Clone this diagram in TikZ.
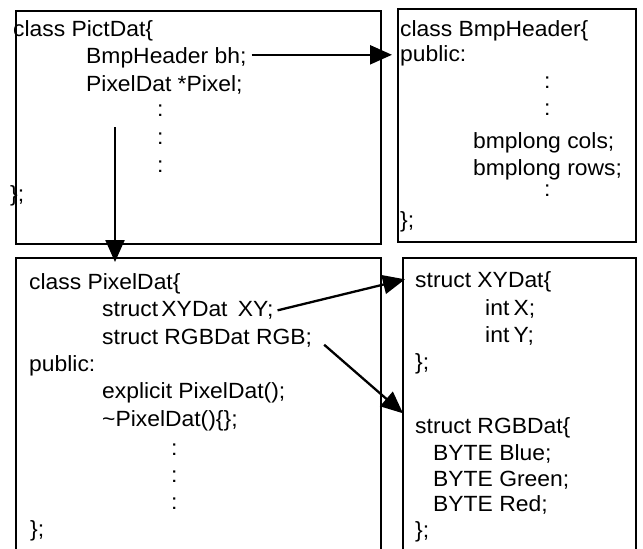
\documentclass[tikz,border=0pt]{standalone}
\usepackage{fontspec}
\setmainfont{Liberation Sans}[FakeStretch=1.04]
\usetikzlibrary{arrows.meta}
\begin{document}
\begin{tikzpicture}[x=1pt,y=-1pt,
  box/.style={draw, line width=2.1pt, inner sep=0pt, anchor=north west},
  txt/.style={anchor=base west, inner sep=0pt, font=\fontsize{22}{26}\selectfont},
  arr/.style={line width=2.3pt, -{Triangle[length=22pt,width=19pt]}}]
\clip (0,0) rectangle (643,549);
\fill[white] (0,0) rectangle (643,549);
% boxes
\node[box, minimum width=365pt, minimum height=233pt] (b1) at (15,10) {};
\node[box, minimum width=238pt, minimum height=233pt] (b2) at (397,8) {};
\node[box, minimum width=365pt, minimum height=320pt] (b3) at (15,257) {};
\node[box, minimum width=233pt, minimum height=320pt] (b4) at (402,257) {};
% box 1
\node[txt] (p1) at (13,36) {class PictDat\{};
\node[txt] (p2) at (86,63.5) {BmpHeader bh;};
\node[txt] (p3) at (86,91) {PixelDat *Pixel;};
\node[txt] (p4) at (157,116.5) {:};
\node[txt] (p5) at (157,144.5) {:};
\node[txt] (p6) at (157,172.5) {:};
\node[txt] (p7) at (10,201) {\};};
% box 2
\node[txt] (q1) at (400,36) {class BmpHeader\{};
\node[txt] (q2) at (400,61) {public:};
\node[txt] (q3) at (544,88.5) {:};
\node[txt] (q4) at (544,115.5) {:};
\node[txt] (q5) at (473,148) {bmplong cols;};
\node[txt] (q6) at (473,175) {bmplong rows;};
\node[txt] (q7) at (544,196.5) {:};
\node[txt] (q8) at (400,227) {\};};
% box 3
\node[txt] (r1) at (29,289) {class PixelDat\{};
\node[txt] (r2) at (102,316.5) {struct\hspace{-3pt} XYDat\hspace{4pt} XY;};
\node[txt] (r3) at (102,344) {struct RGBDat RGB;};
\node[txt] (r4) at (29,371) {public:};
\node[txt] (r5) at (102,398.5) {explicit PixelDat();};
\node[txt] (r6) at (102,426) {\textasciitilde PixelDat()\{\};};
\node[txt] (r7) at (171,455) {:};
\node[txt] (r8) at (171,482) {:};
\node[txt] (r9) at (171,509) {:};
\node[txt] (r10) at (30,536) {\};};
% box 4
\node[txt] (s1) at (415,287) {struct XYDat\{};
\node[txt] (s2) at (485,315) {int\hspace{-2pt} X;};
\node[txt] (s3) at (485,342) {int\hspace{-2pt} Y;};
\node[txt] (s4) at (415,369) {\};};
\node[txt] (s5) at (415,433) {struct RGBDat\{};
\node[txt] (s6) at (433,460) {BYTE Blue;};
\node[txt] (s7) at (433,486) {BYTE Green;};
\node[txt] (s8) at (433,511) {BYTE Red;};
\node[txt] (s9) at (415,537) {\};};
% connectors
\coordinate (a1s) at ([xshift=5pt,yshift=3pt]p2.east);
\draw[arr] (a1s) -- ([xshift=-5pt]b2.west |- a1s);
\coordinate (a2s) at (115,127);
\draw[arr, shorten >=-5pt] (a2s) -- (a2s |- b3.north);
\coordinate (a3s) at ([xshift=4pt]r2.east);
\draw[arr] (a3s) -- ([xshift=-10pt,yshift=2pt]s1.west);
\coordinate (a4s) at ([xshift=12pt,yshift=-7pt]r3.east);
\draw[arr] (a4s) -- ([xshift=-12pt,yshift=14pt]s5.west);
\end{tikzpicture}
\end{document}
